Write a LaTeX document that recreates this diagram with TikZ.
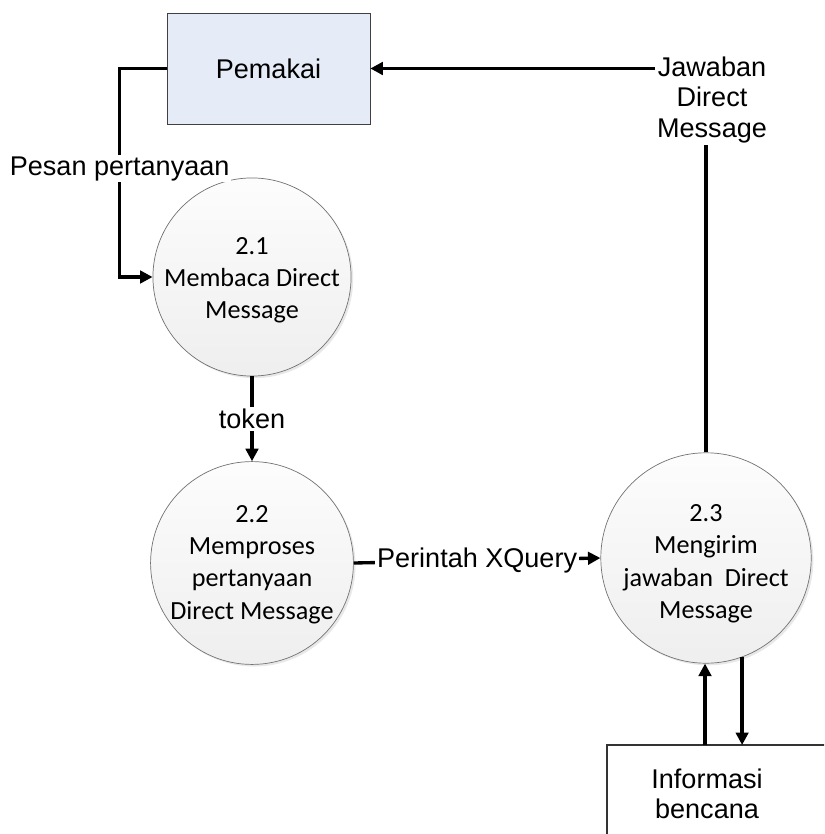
\documentclass[tikz,border=0pt]{standalone}
\usepackage{fontspec}
\setmainfont{Liberation Sans}
\newfontfamily\calibri{Carlito}
\usetikzlibrary{arrows.meta,shadows}
\definecolor{entityblue}{HTML}{E6ECF7}

\begin{document}
\begin{tikzpicture}[x=0.02cm,y=-0.02cm,font=\fontsize{15.4}{17.2}\selectfont,
   flow/.style={line width=1.9pt,-{Triangle[length=2.5mm,width=2.5mm]}},
   flowline/.style={line width=1.9pt},
   entity/.style={rectangle,draw=black!75,fill=entityblue,minimum width=4.06cm,minimum height=2.22cm},
   process/.style={circle,draw=black!55,top color=gray!2,bottom color=gray!13,minimum size=3.84cm,inner sep=0pt,align=center,
      font=\calibri\fontsize{14.9}{18.4}\selectfont,drop shadow={shadow xshift=1.2pt,shadow yshift=-1.2pt,opacity=0.18}},
   lbl/.style={fill=white,inner sep=1pt,align=center}]
   \useasboundingbox (0,0) rectangle (824,834);
   \clip (0,0) rectangle (824,834);
   \node[entity] (pemakai) at (268.5,68.5) {Pemakai};
   \node[process] (p21) at (252,277) {\mbox{}\\[-5pt]2.1\\Membaca Direct\\Message};
   \node[process] (p22) at (252,563) {\mbox{}\\[-7pt]2.2\\Memproses\\pertanyaan\\Direct Message};
   \node[process] (p23) at (706,558) {\mbox{}\\[-2pt]2.3\\Mengirim\\jawaban\ \ Direct\\Message};
   \node[align=center,inner sep=1pt] (jawab) at (712,100) {Jawaban\\Direct\\Message};
   \node[align=center] (info) at (707,794) {Informasi\\bencana};
   \coordinate (infotop) at (705,745);
   \draw[draw=black!80,line width=0.7pt] (850,745) -| (607,850);
   \draw[flow] (pemakai.west) -- ++(-47,0) |- (p21.west) node[lbl,pos=0.24]{Pesan pertanyaan};
   \draw[flow] (p21.south) -- (p22.north) node[lbl,midway]{token};
   \draw[flow] (p22.east) -- (p23.west) node[lbl,midway]{Perintah XQuery};
   \draw[flowline] (p23.north) -- (p23.north |- jawab.south);
   \draw[flow] (jawab.west |- pemakai.east) -- (pemakai.east);
   \draw[flow] (infotop) -- (infotop |- p23.south);
   \draw[flow] (p23.-70) -- (p23.-70 |- infotop);
\end{tikzpicture}
\end{document}
